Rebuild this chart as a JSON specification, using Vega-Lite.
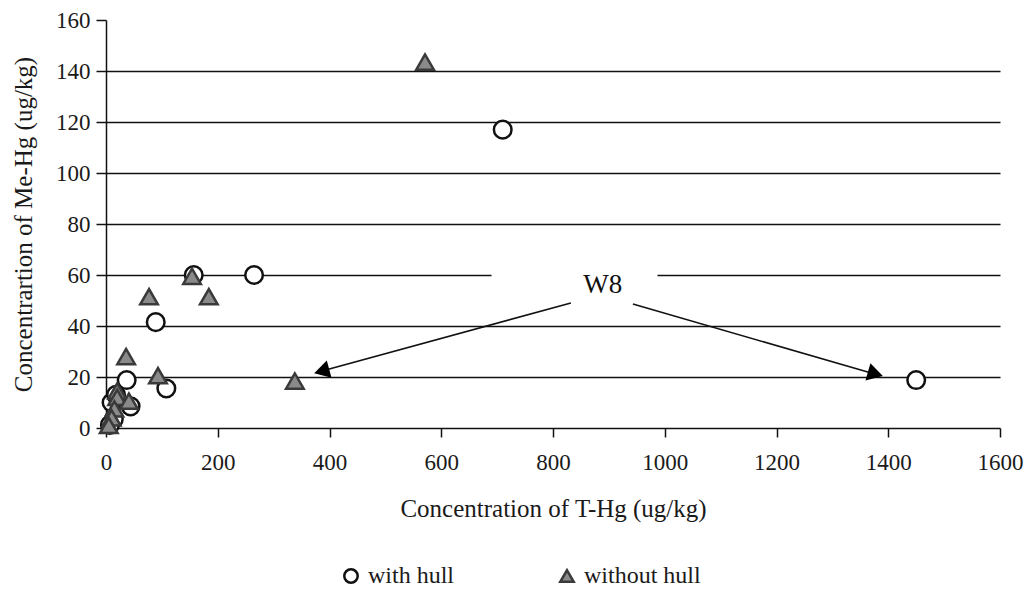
{
  "$schema": "https://vega.github.io/schema/vega-lite/v6.json",
  "width": 894,
  "height": 408,
  "autosize": {"type": "none"},
  "padding": {"left": 106, "top": 20, "right": 32, "bottom": 161},
  "background": "white",
  "config": {
    "view": {"stroke": null},
    "font": "Liberation Serif",
    "axis": {
      "labelFont": "Liberation Serif",
      "titleFont": "Liberation Serif",
      "labelColor": "#1a1a1a",
      "titleColor": "#1a1a1a",
      "domainColor": "#111",
      "tickColor": "#111",
      "domainWidth": 1.5,
      "tickWidth": 1.5,
      "labelFontSize": 23,
      "titleFontSize": 25,
      "titleFontWeight": "normal"
    },
    "legend": {"labelFont": "Liberation Serif", "labelFontSize": 24, "labelColor": "#1a1a1a"}
  },
  "datasets": {
    "pts": [
      {"x": 710, "y": 117, "series": "with hull"},
      {"x": 1450, "y": 18.8, "series": "with hull"},
      {"x": 265, "y": 60, "series": "with hull"},
      {"x": 157, "y": 60, "series": "with hull"},
      {"x": 89, "y": 41.5, "series": "with hull"},
      {"x": 37, "y": 18.8, "series": "with hull"},
      {"x": 108, "y": 15.5, "series": "with hull"},
      {"x": 44, "y": 8.5, "series": "with hull"},
      {"x": 10, "y": 10, "series": "with hull"},
      {"x": 18, "y": 13, "series": "with hull"},
      {"x": 14, "y": 3.5, "series": "with hull"},
      {"x": 7, "y": 1.2, "series": "with hull"},
      {"x": 571, "y": 143.5, "series": "without hull"},
      {"x": 338, "y": 18.4, "series": "without hull"},
      {"x": 154, "y": 59.5, "series": "without hull"},
      {"x": 77, "y": 51.5, "series": "without hull"},
      {"x": 184, "y": 51.5, "series": "without hull"},
      {"x": 36, "y": 28, "series": "without hull"},
      {"x": 93, "y": 20.5, "series": "without hull"},
      {"x": 20, "y": 14.5, "series": "without hull"},
      {"x": 20, "y": 12, "series": "without hull"},
      {"x": 41, "y": 10.5, "series": "without hull"},
      {"x": 15, "y": 7.5, "series": "without hull"},
      {"x": 10, "y": 4, "series": "without hull"},
      {"x": 5, "y": 1, "series": "without hull"}
    ]
  },
  "encoding": {
    "x": {
      "field": "x", "type": "quantitative",
      "scale": {"domain": [0, 1600], "nice": false, "zero": false},
      "axis": {
        "title": "Concentration of T-Hg (ug/kg)",
        "values": [0, 200, 400, 600, 800, 1000, 1200, 1400, 1600],
        "format": "d",
        "grid": false, "tickSize": 9, "labelPadding": 14, "titlePadding": 22,
        "labelFlush": false
      }
    },
    "y": {
      "field": "y", "type": "quantitative",
      "scale": {"domain": [0, 160], "nice": false, "zero": false},
      "axis": {
        "title": "Concentrartion of Me-Hg (ug/kg)",
        "values": [0, 20, 40, 60, 80, 100, 120, 140, 160],
        "format": "d",
        "grid": true, "gridColor": "#111", "gridWidth": 1.5,
        "gridOpacity": {"condition": {"test": "datum.value === 0 || datum.value === 160", "value": 0}, "value": 1},
        "tickSize": 10, "labelPadding": 6, "titlePadding": 19,
        "labelFlush": false
      }
    }
  },
  "layer": [
    {
      "data": {"values": [{"x": 690, "x2": 987, "y": 52, "y2": 66}]},
      "mark": {"type": "rect", "fill": "white", "stroke": null},
      "encoding": {"x2": {"field": "x2"}, "y2": {"field": "y2"}}
    },
    {
      "data": {"values": [
        {"x": 832, "y": 49, "x2": 380, "y2": 22},
        {"x": 943, "y": 48.6, "x2": 1385, "y2": 20.6}
      ]},
      "mark": {"type": "rule", "color": "#111", "strokeWidth": 1.6},
      "encoding": {"x2": {"field": "x2"}, "y2": {"field": "y2"}}
    },
    {
      "data": {"values": [
        {"x": 386, "y": 22.3, "angle": 254.7},
        {"x": 1377, "y": 21.2, "angle": 106}
      ]},
      "mark": {"type": "point", "shape": "triangle-up", "filled": true, "color": "#000", "size": 320, "opacity": 1},
      "encoding": {"angle": {"field": "angle", "type": "quantitative", "scale": null}}
    },
    {
      "data": {"values": [{"x": 889, "y": 56, "label": "W8"}]},
      "mark": {"type": "text", "font": "Liberation Serif", "fontSize": 27, "color": "#111", "baseline": "middle", "align": "center"},
      "encoding": {"text": {"field": "label"}}
    },
    {
      "data": {"name": "pts"},
      "mark": {"type": "point", "filled": true, "opacity": 1, "size": 310, "strokeWidth": 2.5},
      "encoding": {
        "shape": {
          "field": "series", "type": "nominal",
          "scale": {"domain": ["with hull", "without hull"], "range": ["circle", "triangle-up"]},
          "legend": {
            "title": null, "orient": "none", "direction": "horizontal",
            "legendX": 233, "legendY": 544, "symbolSize": 180, "symbolStrokeWidth": 2.5,
            "columnPadding": 100, "labelOffset": 5
          }
        },
        "fill": {
          "field": "series", "type": "nominal",
          "scale": {"domain": ["with hull", "without hull"], "range": ["white", "#8a8a8a"]},
          "legend": {
            "title": null, "orient": "none", "direction": "horizontal",
            "legendX": 233, "legendY": 544, "symbolSize": 180, "symbolStrokeWidth": 2.5,
            "columnPadding": 100, "labelOffset": 5
          }
        },
        "stroke": {
          "field": "series", "type": "nominal",
          "scale": {"domain": ["with hull", "without hull"], "range": ["#111111", "#3a3a3a"]},
          "legend": {
            "title": null, "orient": "none", "direction": "horizontal",
            "legendX": 233, "legendY": 544, "symbolSize": 180, "symbolStrokeWidth": 2.5,
            "columnPadding": 100, "labelOffset": 5
          }
        },
        "strokeWidth": {"value": 2.5}
      }
    }
  ]
}
